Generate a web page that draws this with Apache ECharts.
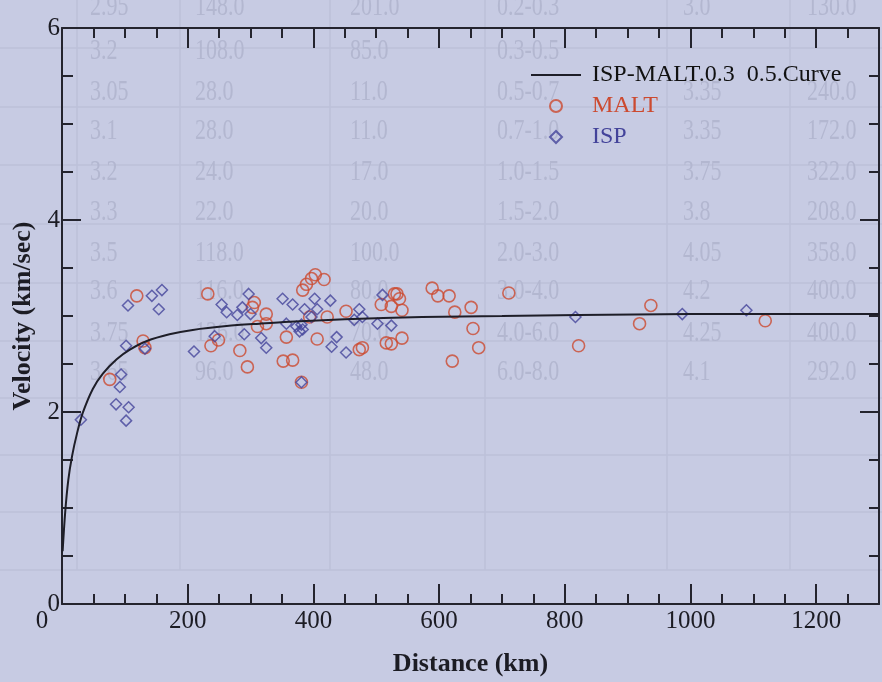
<!DOCTYPE html>
<html>
<head>
<meta charset="utf-8">
<script src="https://cdn.jsdelivr.net/npm/echarts@6/dist/echarts.min.js"></script>
<style>
  html, body { margin: 0; padding: 0; background: #c7cbe3; }
  #chart { width: 882px; height: 682px; }
</style>
</head>
<body>
<div id="chart"></div>
<script>
// ---- data ----
const curveName = 'ISP-MALT.0.3  0.5.Curve';
const curveDist = [1, 5, 10, 16, 24, 33, 49, 65, 87, 108, 135, 171, 208, 262, 314, 362, 450, 573, 700, 822, 1000, 1150, 1300];
const curveVel  = [0.55, 0.95, 1.29, 1.54, 1.78, 1.99, 2.24, 2.40, 2.55, 2.65, 2.74, 2.81, 2.855, 2.895, 2.92, 2.94, 2.965, 2.99, 3.0, 3.01, 3.02, 3.02, 3.02];

const maltDist = [76, 119, 129, 132, 232, 237, 249, 283, 295, 306, 303, 325, 325, 311, 352, 357, 367, 383, 389, 397,
                  403, 417, 406, 422, 394, 452, 473, 478, 508, 524, 529, 533, 537, 541, 516, 524, 541, 589, 598, 616,
                  625, 651, 654, 663, 621, 711, 822, 937, 919, 1119, 381];
const maltVel  = [2.34, 3.21, 2.74, 2.67, 3.23, 2.69, 2.75, 2.64, 2.47, 3.14, 3.09, 3.02, 2.92, 2.89, 2.53, 2.78, 2.54, 3.27, 3.33, 3.39,
                  3.43, 3.38, 2.76, 2.99, 2.99, 3.05, 2.65, 2.67, 3.12, 3.10, 3.23, 3.23, 3.18, 3.06, 2.72, 2.71, 2.77, 3.29, 3.21, 3.21,
                  3.04, 3.09, 2.87, 2.67, 2.53, 3.24, 2.69, 3.11, 2.92, 2.95, 2.31];

const ispDist = [30, 86, 106, 102, 94, 92, 102, 132, 105, 143, 159, 154, 210, 243, 254, 262, 297, 287, 279, 300,
                 290, 317, 325, 351, 357, 367, 402, 427, 386, 406, 373, 381, 378, 383, 397, 437, 429, 452, 473, 478,
                 465, 510, 502, 524, 381, 817, 987, 1089];
const ispVel  = [1.92, 2.08, 2.05, 1.91, 2.39, 2.26, 2.69, 2.66, 3.11, 3.21, 3.27, 3.07, 2.63, 2.79, 3.12, 3.04, 3.23, 3.09, 3.01, 3.02,
                 2.81, 2.77, 2.67, 3.18, 2.92, 3.12, 3.18, 3.16, 3.07, 3.07, 2.89, 2.91, 2.84, 2.86, 2.99, 2.78, 2.68, 2.62, 3.07, 2.99,
                 2.96, 3.22, 2.92, 2.90, 2.31, 2.99, 3.02, 3.06];

const xTickLabels = [0, 200, 400, 600, 800, 1000, 1200];
const yTickLabels = [0, 2, 4, 6];

// table printed on the sheet underneath the plot
const tableRows = [
  ['2.95', '148.0', '201.0', '0.2-0.3', '3.0', '130.0'],
  ['3.2', '108.0', '85.0', '0.3-0.5', '', ''],
  ['3.05', '28.0', '11.0', '0.5-0.7', '3.35', '240.0'],
  ['3.1', '28.0', '11.0', '0.7-1.0', '3.35', '172.0'],
  ['3.2', '24.0', '17.0', '1.0-1.5', '3.75', '322.0'],
  ['3.3', '22.0', '20.0', '1.5-2.0', '3.8', '208.0'],
  ['3.5', '118.0', '100.0', '2.0-3.0', '4.05', '358.0'],
  ['3.6', '116.0', '80.0', '3.0-4.0', '4.2', '400.0'],
  ['3.75', '126.0', '70.0', '4.0-6.0', '4.25', '400.0'],
  ['3.65', '96.0', '48.0', '6.0-8.0', '4.1', '292.0']
];

// ---- layout of the underlying sheet ----
const sheetColX = [90, 195, 350, 497, 683, 807];
const sheetRowY = [10, 73, 132, 188, 247, 303, 362, 417, 477, 532];
const sheetLineX = [77, 180, 330, 485, 667, 790];
const sheetLineY = [48, 107, 165, 224, 283, 341, 398, 455, 512, 570];

const serif = 'Liberation Serif';
const ink = '#24242e';
const red = '#cc4a30';
const blue = '#43439a';

const zip = (xs, ys) => xs.map((x, i) => [x, ys[i]]);

const sheet = [];
sheetLineX.forEach(x => sheet.push({
  type: 'line', z: -10, silent: true,
  shape: { x1: x, y1: 0, x2: x, y2: sheetLineY[sheetLineY.length - 1] },
  style: { stroke: '#bcc0d8', lineWidth: 1.5 }
}));
sheetLineY.forEach(y => sheet.push({
  type: 'line', z: -10, silent: true,
  shape: { x1: 0, y1: y, x2: 882, y2: y },
  style: { stroke: '#bcc0d8', lineWidth: 1.5 }
}));
tableRows.forEach((row, r) => row.forEach((txt, c) => {
  if (!txt) return;
  sheet.push({
    type: 'text', z: -10, silent: true,
    x: sheetColX[c], y: sheetRowY[r], scaleY: 1.3, originY: sheetRowY[r],
    style: { text: txt, fill: '#b3b7d0', font: '22px "Liberation Serif"', textVerticalAlign: 'middle' }
  });
}));

function axisBase(extra) {
  return Object.assign({
    type: 'value',
    splitLine: { show: false },
    axisLine: { show: true, onZero: false, lineStyle: { color: ink, width: 2 } },
    axisTick: { show: true, inside: true, length: 20, lineStyle: { color: ink, width: 2 } },
    axisLabel: { show: false }
  }, extra);
}

const chart = echarts.init(document.getElementById('chart'), null, { renderer: 'canvas' });

chart.setOption({
  backgroundColor: 'transparent',
  animation: false,
  graphic: sheet,
  grid: { left: 62, right: -1, top: 28, bottom: 72 },
  legend: {
    orient: 'vertical',
    left: 530, top: 63, padding: 0,
    itemWidth: 50, itemHeight: 12, itemGap: 7,
    symbolKeepAspect: true,
    textStyle: { fontFamily: serif, fontSize: 24, color: '#111', padding: [0, 0, 0, 6] },
    data: [
      { name: curveName, itemStyle: { opacity: 0 } },
      { name: 'MALT', textStyle: { color: red } },
      { name: 'ISP', icon: 'path://M5,0 L10,5 L5,10 L0,5 Z', textStyle: { color: blue } }
    ]
  },
  xAxis: [
    axisBase({
      position: 'bottom', min: 0, max: 1300, interval: 200,
      name: 'Distance (km)', nameLocation: 'middle', nameGap: 47,
      nameTextStyle: { fontFamily: serif, fontSize: 26, fontWeight: 'bold', color: '#1c1c24' },
      axisLabel: {
        show: true, margin: 5, fontFamily: serif, fontSize: 25, color: '#1c1c24',
        formatter: v => (xTickLabels.indexOf(v) < 0 ? '' : (v === 0 ? '{z|0}' : String(v))),
        rich: { z: { fontFamily: serif, fontSize: 25, color: '#1c1c24', padding: [0, 40, 0, 0] } }
      }
    }),
    axisBase({ position: 'bottom', min: 0, max: 1300, interval: 50, axisLine: { show: false, onZero: false }, axisTick: { show: true, inside: true, length: 10, lineStyle: { color: ink, width: 2 } } }),
    axisBase({ position: 'top', min: 0, max: 1300, interval: 200 }),
    axisBase({ position: 'top', min: 0, max: 1300, interval: 50, axisLine: { show: false, onZero: false }, axisTick: { show: true, inside: true, length: 10, lineStyle: { color: ink, width: 2 } } })
  ],
  yAxis: [
    axisBase({
      position: 'left', min: 0, max: 6, interval: 2,
      axisTick: { show: true, inside: true, length: 19, lineStyle: { color: ink, width: 2 } },
      minorTick: { show: true, splitNumber: 4, length: 11, lineStyle: { color: ink, width: 2 } },
      name: 'Velocity (km/sec)', nameLocation: 'middle', nameGap: 26,
      nameTextStyle: { fontFamily: serif, fontSize: 26, fontWeight: 'bold', color: '#1c1c24' },
      axisLabel: {
        show: true, margin: 2, fontFamily: serif, fontSize: 25, color: '#1c1c24',
        formatter: v => (yTickLabels.indexOf(v) < 0 ? '' : String(v))
      }
    }),
    axisBase({
      position: 'right', min: 0, max: 6, interval: 2,
      axisTick: { show: true, inside: true, length: 19, lineStyle: { color: ink, width: 2 } },
      minorTick: { show: true, splitNumber: 4, length: 10, lineStyle: { color: ink, width: 2 } }
    })
  ],
  series: [
    {
      name: curveName, type: 'line', xAxisIndex: 0, yAxisIndex: 0,
      data: zip(curveDist, curveVel),
      smooth: 0.3, symbol: 'none', showSymbol: false,
      lineStyle: { color: '#1e1e28', width: 2 }, itemStyle: { color: '#1e1e28' }, z: 4
    },
    {
      name: 'MALT', type: 'scatter', xAxisIndex: 0, yAxisIndex: 0,
      data: zip(maltDist, maltVel),
      symbol: 'circle', symbolSize: 12,
      itemStyle: { color: 'rgba(0,0,0,0)', borderColor: red, borderWidth: 1.6 }, z: 3
    },
    {
      name: 'ISP', type: 'scatter', xAxisIndex: 0, yAxisIndex: 0,
      data: zip(ispDist, ispVel),
      symbol: 'diamond', symbolSize: 11,
      itemStyle: { color: 'rgba(0,0,0,0)', borderColor: blue, borderWidth: 1.5 }, z: 3
    }
  ]
});
</script>
</body>
</html>
